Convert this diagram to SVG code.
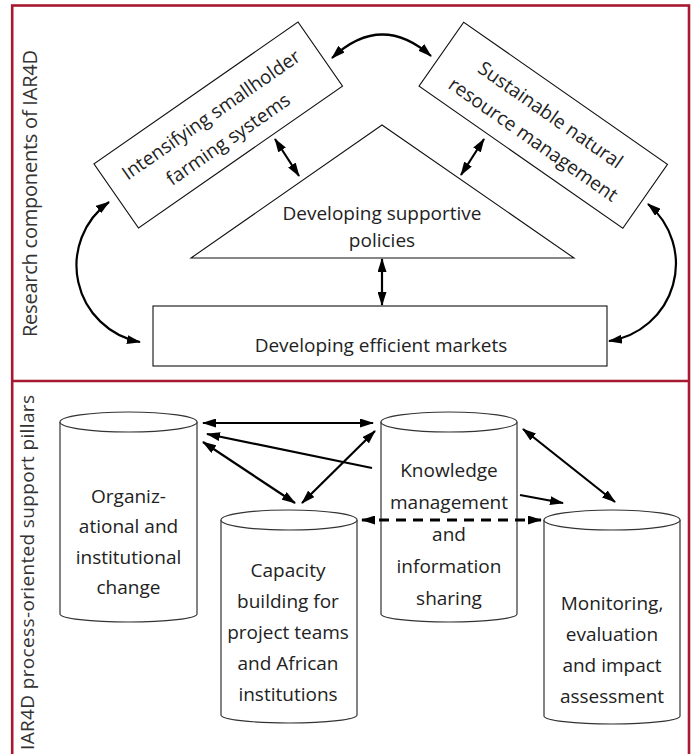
<svg xmlns="http://www.w3.org/2000/svg" width="694" height="754" viewBox="0 0 694 754">
<defs>
<style>
.frame{fill:none;stroke:#a71930;stroke-width:2.6}
.box{fill:#fff;stroke:#111;stroke-width:1.1}
.cyl{fill:#fff;stroke:#333;stroke-width:1.2}
.t{font-family:"Open Sans","Noto Sans",sans-serif;font-size:19px;fill:#222;text-anchor:middle}
.lbl{font-family:"Open Sans","Noto Sans",sans-serif;fill:#333;text-anchor:middle}
.c{fill:none;stroke:#000;stroke-width:2.2}
.dash{stroke-width:3;stroke-dasharray:10 7}
</style>
<marker id="ah" markerUnits="userSpaceOnUse" markerWidth="14" markerHeight="9" refX="13" refY="4.5" orient="auto-start-reverse">
<path d="M0,0 L14,4.5 L0,9 z" fill="#000"/>
</marker>
</defs>
<rect width="694" height="754" fill="#fff"/>
<g id="frame">
<rect class="frame" x="12.2" y="5.5" width="676.8" height="760"/>
<line class="frame" x1="12" y1="381" x2="689" y2="381"/>
<text class="lbl" font-size="20" transform="translate(37,193.5) rotate(-90)" textLength="287">Research components of IAR4D</text>
<text class="lbl" font-size="19" transform="translate(33.5,572.5) rotate(-90)" textLength="355">IAR4D process-oriented support pillars</text>
</g>
<g id="intensifying" transform="translate(218.25,125) rotate(-34.8)">
<rect class="box" x="-124.25" y="-39" width="248.5" height="78"/>
<text class="t" x="0" y="-6">Intensifying smallholder</text>
<text class="t" x="0" y="24">farming systems</text>
</g>
<g id="sustainable" transform="translate(543.25,125.25) rotate(34.9)">
<rect class="box" x="-124.25" y="-39" width="248.5" height="78"/>
<text class="t" x="0" y="-6">Sustainable natural</text>
<text class="t" x="0" y="24">resource management</text>
</g>
<g id="policies">
<polygon class="box" points="382,125 191,258 574,258"/>
<text class="t" x="382" y="220">Developing supportive</text>
<text class="t" x="382" y="247">policies</text>
</g>
<g id="markets">
<rect class="box" x="153" y="306" width="454" height="60"/>
<text class="t" x="381" y="352">Developing efficient markets</text>
</g>
<g id="organizational">
<path class="cyl" d="M60,422 L60,614 A68.5,8 0 0 0 197,614 L197,422"/>
<ellipse class="cyl" cx="128.5" cy="422" rx="68.5" ry="10"/>
<text class="t" x="128.5" y="503">Organiz-</text>
<text class="t" x="128.5" y="533">ational and</text>
<text class="t" x="128.5" y="564">institutional</text>
<text class="t" x="128.5" y="594">change</text>
</g>
<g id="capacity">
<path class="cyl" d="M221,520 L221,715 A68,8 0 0 0 357,715 L357,520"/>
<ellipse class="cyl" cx="289" cy="520" rx="68" ry="10"/>
<text class="t" x="288" y="577">Capacity</text>
<text class="t" x="288" y="608">building for</text>
<text class="t" x="288" y="639">project teams</text>
<text class="t" x="288" y="670">and African</text>
<text class="t" x="288" y="701">institutions</text>
</g>
<g id="knowledge">
<path class="cyl" d="M381,422 L381,614 A68,8 0 0 0 517,614 L517,422"/>
<ellipse class="cyl" cx="449" cy="422" rx="68" ry="10"/>
<text class="t" x="449" y="477">Knowledge</text>
<text class="t" x="449" y="509">management</text>
<text class="t" x="449" y="541">and</text>
<text class="t" x="449" y="573">information</text>
<text class="t" x="449" y="605">sharing</text>
</g>
<g id="monitoring">
<path class="cyl" d="M544,520 L544,716 A68,8 0 0 0 680,716 L680,520"/>
<ellipse class="cyl" cx="612" cy="520" rx="68" ry="10"/>
<text class="t" x="612" y="610">Monitoring,</text>
<text class="t" x="612" y="641">evaluation</text>
<text class="t" x="612" y="672">and impact</text>
<text class="t" x="612" y="703">assessment</text>
</g>
<g id="connectors">
<path class="c" d="M332,58 Q381,12 431,56" marker-start="url(#ah)" marker-end="url(#ah)"/>
<line class="c" x1="275" y1="139" x2="299" y2="176" marker-start="url(#ah)" marker-end="url(#ah)"/>
<line class="c" x1="484" y1="139" x2="461" y2="175" marker-start="url(#ah)" marker-end="url(#ah)"/>
<line class="c" x1="382" y1="259" x2="382" y2="305" marker-start="url(#ah)" marker-end="url(#ah)"/>
<path class="c" d="M109,202 A78,78 0 0 0 140,342" marker-start="url(#ah)" marker-end="url(#ah)"/>
<path class="c" d="M648,204 A78,78 0 0 1 609,341" marker-start="url(#ah)" marker-end="url(#ah)"/>
<line class="c" x1="203" y1="423" x2="373" y2="423" marker-start="url(#ah)" marker-end="url(#ah)"/>
<line class="c" x1="372" y1="468" x2="207" y2="434" marker-end="url(#ah)"/>
<line class="c" x1="203" y1="442" x2="295" y2="503" marker-start="url(#ah)" marker-end="url(#ah)"/>
<line class="c" x1="302" y1="503" x2="375" y2="431" marker-start="url(#ah)" marker-end="url(#ah)"/>
<line class="c" x1="523" y1="429" x2="615" y2="502" marker-start="url(#ah)" marker-end="url(#ah)"/>
<line class="c" x1="520" y1="495" x2="563" y2="503" marker-end="url(#ah)"/>
<line class="c dash" x1="362" y1="520" x2="541" y2="520" marker-start="url(#ah)" marker-end="url(#ah)"/>
</g>
</svg>
